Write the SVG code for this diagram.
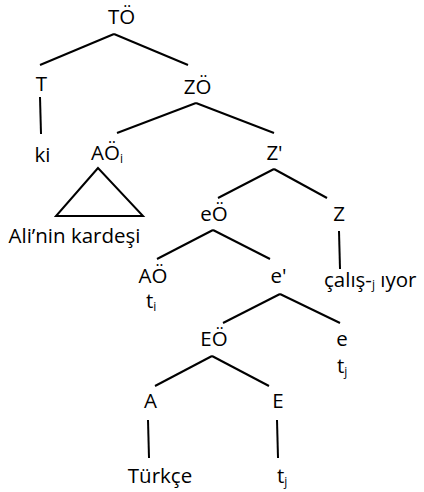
<svg xmlns="http://www.w3.org/2000/svg" width="424" height="492" viewBox="0 0 424 492">
<style>
text{font-family:"Open Sans","Liberation Sans",sans-serif;font-size:20.5px;fill:#000;text-anchor:middle}
.l{text-anchor:start}
.sub{font-size:12px}
line,polygon{stroke:#000;stroke-width:2;fill:none}
</style>
<rect width="424" height="492" fill="#fff"/>
<g id="connectors">
<line x1="114" y1="34" x2="40" y2="65"/>
<line x1="114" y1="34" x2="188" y2="65"/>
<line x1="40" y1="97" x2="41" y2="134"/>
<line x1="196" y1="103" x2="117" y2="133"/>
<line x1="196" y1="103" x2="274" y2="133"/>
<polygon points="98,168 56,216 143,216"/>
<line x1="274" y1="169" x2="218" y2="198"/>
<line x1="274" y1="169" x2="327" y2="198"/>
<line x1="213" y1="230" x2="157" y2="259"/>
<line x1="213" y1="230" x2="270" y2="259"/>
<line x1="339" y1="231" x2="340" y2="269"/>
<line x1="280" y1="294" x2="223" y2="323"/>
<line x1="280" y1="294" x2="340" y2="323"/>
<line x1="212" y1="356" x2="155" y2="386"/>
<line x1="212" y1="356" x2="269" y2="386"/>
<line x1="148" y1="420" x2="149" y2="458"/>
<line x1="277" y1="420" x2="278" y2="458"/>
</g>
<g id="n-TO"><text x="121.5" y="24">TÖ</text></g>
<g id="n-T"><text x="41.5" y="91">T</text></g>
<g id="n-ZO"><text x="197.5" y="94">ZÖ</text></g>
<g id="n-ki"><text x="42.5" y="162">ki</text></g>
<g id="n-AOi"><text class="l" x="91" y="160">AÖ<tspan class="sub" dy="3">i</tspan></text></g>
<g id="n-Zbar"><text x="274.5" y="160">Z'</text></g>
<g id="n-Ali"><text x="74.5" y="243">Ali’nin kardeşi</text></g>
<g id="n-eO"><text x="214" y="221">eÖ</text></g>
<g id="n-Z"><text x="339" y="221">Z</text></g>
<g id="n-AO"><text x="153" y="283">AÖ</text><text class="l" x="146" y="308">t<tspan class="sub" dy="3">i</tspan></text></g>
<g id="n-ebar"><text x="278.5" y="283">e'</text></g>
<g id="n-calis"><text class="l" x="324" y="287">çalış-<tspan class="sub" dy="2">j</tspan><tspan dy="-2"> ıyor</tspan></text></g>
<g id="n-EO"><text x="214" y="346">EÖ</text></g>
<g id="n-e"><text x="342" y="346">e</text><text class="l" x="337" y="373">t<tspan class="sub" dy="3">j</tspan></text></g>
<g id="n-A"><text x="150.5" y="408">A</text></g>
<g id="n-E"><text x="278" y="408">E</text></g>
<g id="n-Turkce"><text x="160" y="483">Türkçe</text></g>
<g id="n-tj"><text class="l" x="277" y="483">t<tspan class="sub" dy="3">j</tspan></text></g>
</svg>
